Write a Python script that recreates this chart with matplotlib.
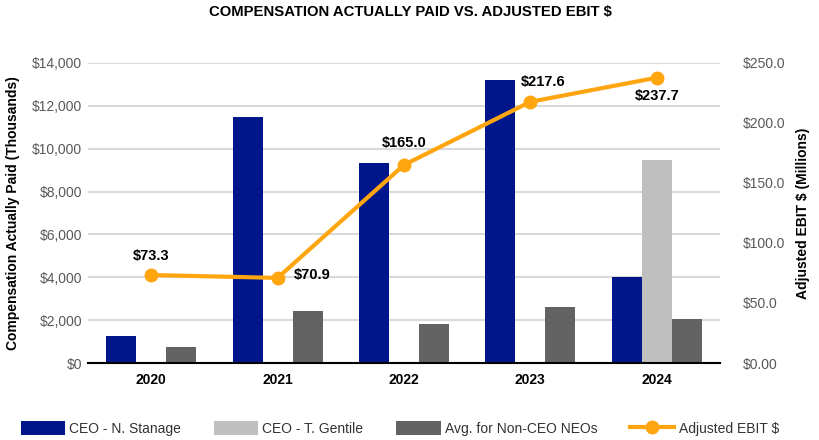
import numpy as np
import matplotlib
matplotlib.use('Agg')
import matplotlib.pyplot as plt
from matplotlib.ticker import FuncFormatter

plt.rcParams['font.family'] = ['Liberation Sans', 'DejaVu Sans']

years = ['2020', '2021', '2022', '2023', '2024']
ceo_stanage = [1270, 11480, 9330, 13210, 4000]
ceo_gentile = [0, 0, 0, 0, 9470]
avg_non_ceo = [750, 2430, 1840, 2590, 2060]
adj_ebit = [73.3, 70.9, 165.0, 217.6, 237.7]
ebit_labels = ['$73.3', '$70.9', '$165.0', '$217.6', '$237.7']

blue = '#00168A'
light = '#BFBFBF'
dark = '#636363'
orange = '#FFA50F'
tick_col = '#595959'

fig = plt.figure(figsize=(8.2, 4.4), dpi=100, facecolor='w')
ax = fig.add_axes([0.1073, 0.175, 0.7707, 0.682])
ax2 = ax.twinx()

x = np.arange(len(years))
w = 0.237
ax.bar(x - w, ceo_stanage, w, color=blue, label='CEO - N. Stanage', zorder=2)
ax.bar(x, ceo_gentile, w, color=light, label='CEO - T. Gentile', zorder=2)
ax.bar(x + w, avg_non_ceo, w, color=dark, label='Avg. for Non-CEO NEOs', zorder=2)

ax2.plot(x, adj_ebit, color=orange, lw=3, marker='o', ms=9,
         label='Adjusted EBIT $', zorder=3)

# label offsets (points) around each EBIT marker
offsets = [(0, 14), (25, 2), (0, 16), (9, 14), (0, -13)]
for xi, yi, lab, off in zip(x, adj_ebit, ebit_labels, offsets):
    ax2.annotate(lab, (xi, yi), xytext=off, textcoords='offset points',
                 ha='center', va='center', fontsize=10.5, fontweight='bold')

ax.set_xlim(-0.5, 4.5)
ax.set_ylim(0, 14000)
ax.set_yticks(np.arange(0, 14001, 2000))
ax2.set_ylim(0, 250)
ax2.set_yticks(np.arange(0, 251, 50))

ax.yaxis.set_major_formatter(FuncFormatter(lambda v, p: '${:,.0f}'.format(v)))
ax2.yaxis.set_major_formatter(FuncFormatter(
    lambda v, p: '$0.00' if v == 0 else '${:,.1f}'.format(v)))

ax.set_xticks(x)
ax.set_xticklabels(years, fontweight='bold', fontsize=10)
ax.tick_params(axis='x', length=0, pad=7)
ax.tick_params(axis='y', length=0, pad=4, labelsize=10, labelcolor=tick_col)
ax2.tick_params(axis='y', length=0, pad=16.5, labelsize=10, labelcolor=tick_col)

ax.grid(axis='y', color='#D9D9D9', lw=1.5, zorder=0)
ax.set_axisbelow(True)
for a in (ax, ax2):
    for s in ['top', 'left', 'right', 'bottom']:
        a.spines[s].set_visible(False)
ax.spines['bottom'].set_visible(True)
ax.spines['bottom'].set_linewidth(1.5)
ax.spines['bottom'].set_color('black')
ax.spines['bottom'].set_zorder(4)

ax.set_ylabel('Compensation Actually Paid (Thousands)', fontsize=10, fontweight='bold')
ax.yaxis.set_label_coords(-0.108, 0.5)
ax2.set_ylabel('Adjusted EBIT $ (Millions)', fontsize=10, fontweight='bold')
ax2.yaxis.set_label_coords(1.12, 0.5)

fig.suptitle('COMPENSATION ACTUALLY PAID VS. ADJUSTED EBIT $', x=0.5, y=0.988,
             fontsize=10.7, fontweight='bold')

h1, l1 = ax.get_legend_handles_labels()
h2, l2 = ax2.get_legend_handles_labels()
fig.legend(h1 + h2, l1 + l2, loc='center left', bbox_to_anchor=(0.01, 0.027),
           ncol=4, frameon=False, fontsize=10, handlelength=3.2, handleheight=1.2,
           handletextpad=0.3, columnspacing=2.35, labelcolor='#333333')

plt.savefig('out.png', dpi=100)
